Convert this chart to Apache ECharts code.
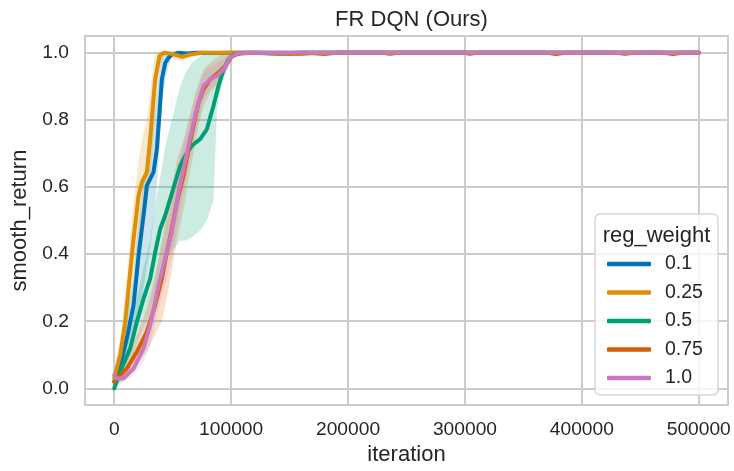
<!DOCTYPE html>
<html>
<head>
<meta charset="utf-8">
<script src="https://cdn.jsdelivr.net/npm/echarts@6/dist/echarts.min.js"></script>
<style>html,body{margin:0;padding:0;background:#fff}#c{width:734px;height:471px}</style>
</head>
<body>
<div id="c"></div>
<script>
const xTicks = [0, 100000, 200000, 300000, 400000, 500000];
const yTicks = [0, 0.2, 0.4, 0.6, 0.8, 1.0];
const names = ['0.1', '0.25', '0.5', '0.75', '1.0'];

const mean_01 = [[0,0.02],[2280,0.03],[10830,0.149],[16520,0.248],[20800,0.396],[25070,0.515],[27920,0.604],[30770,0.624],[33620,0.644],[36470,0.713],[38750,0.822],[40740,0.921],[43590,0.97],[46440,0.985],[49290,0.995],[55000,1.0],[62000,0.998],[70000,1.0],[90000,0.999],[100000,1.0],[150000,1.0],[200000,1.0],[300000,1.0],[400000,1.0],[500000,1.0]];
const mean_025 = [[0,0.03],[5130,0.099],[9400,0.198],[13680,0.347],[16520,0.445],[20800,0.574],[23650,0.614],[27920,0.644],[30770,0.743],[33050,0.842],[35040,0.921],[38750,0.99],[42170,1.0],[50000,0.997],[57800,0.988],[65000,0.995],[75000,1.0],[120000,1.0],[160000,0.996],[175000,1.0],[230000,1.0],[236000,0.996],[242000,1.0],[300000,1.0],[304000,0.996],[310000,1.0],[430000,1.0],[437000,0.996],[444000,1.0],[500000,1.0]];
const mean_05 = [[0,0.0],[5130,0.05],[13680,0.119],[19370,0.198],[25070,0.267],[30770,0.327],[35040,0.406],[39320,0.475],[43590,0.515],[47860,0.564],[52140,0.614],[56410,0.663],[60680,0.693],[66380,0.723],[73500,0.743],[79200,0.772],[84900,0.842],[89170,0.901],[93450,0.95],[97720,0.98],[102000,0.995],[110000,1.0],[140000,0.998],[160000,1.0],[300000,1.0],[500000,1.0]];
const mean_075 = [[0,0.02],[2280,0.03],[10830,0.059],[19370,0.109],[27920,0.168],[35040,0.248],[40740,0.327],[45010,0.406],[49290,0.475],[53560,0.554],[59260,0.634],[63530,0.713],[67810,0.782],[72080,0.851],[76350,0.891],[82050,0.921],[89170,0.941],[94870,0.96],[100570,0.99],[107690,0.998],[120000,1.0],[150000,0.997],[165000,1.0],[180000,0.996],[190000,1.0],[370000,1.0],[378000,0.996],[386000,1.0],[470000,1.0],[478000,0.996],[486000,1.0],[500000,1.0]];
const mean_10 = [[0,0.04],[855,0.03],[7980,0.03],[16520,0.059],[25070,0.119],[30770,0.188],[37890,0.307],[43590,0.386],[49290,0.465],[54990,0.584],[59260,0.653],[63530,0.723],[67810,0.792],[72080,0.851],[76350,0.901],[82050,0.921],[87750,0.931],[93450,0.95],[99150,0.985],[104840,0.998],[116240,1.0],[200000,1.0],[300000,1.0],[400000,1.0],[500000,1.0]];

const band_01 = [[0,0.0,0.05],[5000,0.03,0.12],[10830,0.08,0.22],[16520,0.14,0.33],[20800,0.22,0.5],[25070,0.3,0.62],[27920,0.36,0.68],[30770,0.42,0.74],[33620,0.5,0.8],[36470,0.6,0.88],[38750,0.72,0.95],[40740,0.85,1.0],[43590,0.92,1.0],[46440,0.96,1.0],[49290,0.99,1.0],[55000,0.995,1.0],[70000,0.998,1.0],[100000,1.0,1.0],[500000,1.0,1.0]];
const band_025 = [[0,0.0,0.06],[5130,0.05,0.15],[9400,0.12,0.28],[13680,0.25,0.45],[16520,0.33,0.55],[20800,0.45,0.68],[23650,0.52,0.74],[27920,0.55,0.8],[30770,0.62,0.88],[33050,0.72,0.95],[35040,0.82,1.0],[38750,0.95,1.0],[42170,0.99,1.0],[57800,0.975,1.0],[75000,1.0,1.0],[500000,1.0,1.0]];
const band_05 = [[0,0.0,0.02],[5130,0.02,0.09],[13680,0.07,0.18],[19370,0.13,0.27],[25070,0.18,0.36],[30770,0.23,0.44],[35040,0.29,0.55],[39320,0.34,0.63],[43590,0.38,0.72],[47860,0.4,0.78],[52140,0.42,0.84],[56410,0.44,0.9],[60680,0.44,0.94],[66380,0.45,0.97],[73500,0.47,0.99],[79200,0.5,1.0],[84900,0.56,1.0],[88000,0.84,1.0],[93450,0.92,1.0],[97720,0.96,1.0],[102000,0.99,1.0],[110000,1.0,1.0],[500000,1.0,1.0]];
const band_075 = [[0,0.0,0.04],[10830,0.03,0.09],[19370,0.07,0.16],[27920,0.11,0.24],[35040,0.16,0.34],[40740,0.2,0.44],[45010,0.27,0.53],[49290,0.35,0.6],[53560,0.44,0.68],[59260,0.53,0.74],[63530,0.62,0.8],[67810,0.7,0.86],[72080,0.78,0.91],[76350,0.84,0.95],[82050,0.88,0.97],[89170,0.91,0.99],[94870,0.94,1.0],[100570,0.98,1.0],[107690,0.995,1.0],[120000,1.0,1.0],[500000,1.0,1.0]];
const band_10 = [[0,0.02,0.05],[7980,0.02,0.05],[16520,0.04,0.09],[25070,0.08,0.17],[30770,0.13,0.25],[37890,0.24,0.38],[43590,0.31,0.47],[49290,0.39,0.55],[54990,0.5,0.67],[59260,0.58,0.73],[63530,0.66,0.79],[67810,0.73,0.85],[72080,0.8,0.9],[76350,0.86,0.94],[82050,0.89,0.96],[87750,0.91,0.97],[93450,0.93,0.98],[99150,0.97,1.0],[104840,0.99,1.0],[116240,1.0,1.0],[500000,1.0,1.0]];

const means = [mean_01, mean_025, mean_05, mean_075, mean_10];
const bands = [band_01, band_025, band_05, band_075, band_10];
const palette = ['#0173b2', '#de8f05', '#029e73', '#d55e00', '#cc78bc'];
const FONT = "'Liberation Sans', Arial, sans-serif";
const TXT = '#262626';

function hexA(hex, a) {
  const n = parseInt(hex.slice(1), 16);
  return 'rgba(' + ((n >> 16) & 255) + ',' + ((n >> 8) & 255) + ',' + (n & 255) + ',' + a + ')';
}

const series = [];
names.forEach((nm, i) => {
  series.push({
    name: nm, type: 'line', data: means[i], showSymbol: false, symbol: 'none',
    lineStyle: { color: palette[i], width: 4, join: 'round', cap: 'round' },
    itemStyle: { color: palette[i] }, animation: false, z: 2
  });
  const band = bands[i];
  series.push({
    name: 'band' + nm, type: 'custom', data: [[0, 0]], animation: false, silent: true, z: 2,
    renderItem: function (params, api) {
      const pts = [];
      band.forEach(b => pts.push(api.coord([b[0], b[2]])));
      for (let k = band.length - 1; k >= 0; k--) pts.push(api.coord([band[k][0], band[k][1]]));
      return { type: 'polygon', shape: { points: pts }, style: { fill: hexA(palette[i], 0.2), stroke: null } };
    }
  });
});

const chart = echarts.init(document.getElementById('c'), null, { renderer: 'canvas' });
chart.setOption({
  backgroundColor: '#ffffff',
  animation: false,
  color: palette,
  title: [
    { text: 'FR DQN (Ours)', left: 406.5, top: 4, textAlign: 'center',
      textStyle: { fontFamily: FONT, fontSize: 22, fontWeight: 'normal', color: TXT } },
    { text: 'reg_weight', left: 656.5, top: 225, textAlign: 'center', padding: 0,
      textStyle: { fontFamily: FONT, fontSize: 22, fontWeight: 'normal', color: TXT } }
  ],
  grid: { left: 85, right: 6, top: 36, bottom: 65, show: true, borderColor: '#cccccc', borderWidth: 2, backgroundColor: 'transparent' },
  xAxis: {
    type: 'value', min: -25000, max: 525000,
    name: 'iteration', nameLocation: 'middle', nameGap: 35,
    nameTextStyle: { fontFamily: FONT, fontSize: 22, color: TXT },
    axisLine: { show: false },
    axisTick: { show: false, customValues: xTicks },
    axisLabel: { customValues: xTicks, formatter: v => String(v), fontFamily: FONT, fontSize: 19.2, color: TXT, margin: 15 },
    splitLine: { show: true, lineStyle: { color: '#cccccc', width: 2 } }
  },
  yAxis: {
    type: 'value', min: -0.05, max: 1.05,
    name: 'smooth_return', nameLocation: 'middle', nameGap: 51,
    nameTextStyle: { fontFamily: FONT, fontSize: 22, color: TXT },
    axisLine: { show: false },
    axisTick: { show: false, customValues: yTicks },
    axisLabel: { customValues: yTicks, formatter: v => v.toFixed(1), fontFamily: FONT, fontSize: 19.2, color: TXT, margin: 16 },
    splitLine: { show: true, lineStyle: { color: '#cccccc', width: 2 } }
  },
  legend: {
    data: names, orient: 'vertical', left: 595, top: 214,
    padding: [40, 15, 7, 12], itemGap: 8.5, itemWidth: 44, itemHeight: 4.5, icon: 'roundRect',
    backgroundColor: 'rgba(255,255,255,0.8)', borderColor: '#d6d6d6', borderWidth: 1.5, borderRadius: 5,
    textStyle: { fontFamily: FONT, fontSize: 19.5, color: TXT, lineHeight: 20, padding: [0, 0, 0, 9] },
    selectedMode: false
  },
  series: series
});
</script>
</body>
</html>
